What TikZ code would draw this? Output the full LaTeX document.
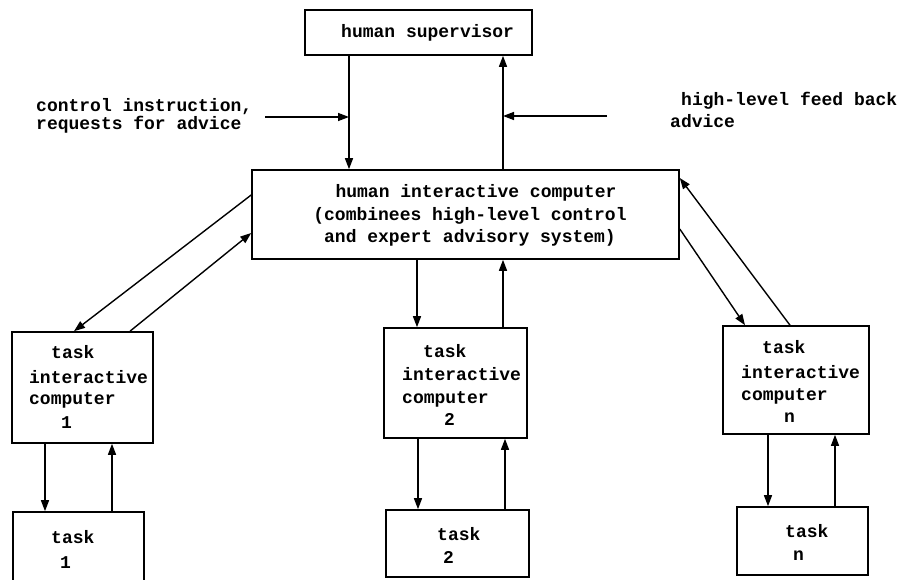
\documentclass[tikz,border=0pt]{standalone}
\usepackage{fontspec}
\setmonofont{Liberation Mono}
\usetikzlibrary{arrows.meta}
\begin{document}
\begin{tikzpicture}[x=1pt,y=-1pt,
  box/.style={draw, line width=1.6pt, inner sep=0pt, rectangle},
  arr/.style={line width=1.4pt, -{Triangle[length=11pt,width=8pt]}},
  txt/.style={inner sep=0pt, anchor=base west, font=\ttfamily\bfseries\fontsize{18}{22}\selectfont},
  ctxt/.style={txt, anchor=base}]
\clip (0,0) rectangle (903,580);
\useasboundingbox (0,0) rectangle (903,580);
% boxes
\node[box, minimum width=227pt, minimum height=45pt] (sup) at (418.5,32.5) {};
\node[box, minimum width=427pt, minimum height=89pt] (hic) at (465.5,214.5) {};
\node[box, minimum width=141pt, minimum height=111pt] (tic1) at (82.5,387.5) {};
\node[box, minimum width=143pt, minimum height=110pt] (tic2) at (455.5,383) {};
\node[box, minimum width=146pt, minimum height=108pt] (ticn) at (796,380) {};
\node[box, minimum width=131pt, minimum height=90pt] (task1) at (78.5,557) {};
\node[box, minimum width=143pt, minimum height=67pt] (task2) at (457.5,543.5) {};
\node[box, minimum width=131pt, minimum height=68pt] (taskn) at (802.5,541) {};
% texts
\node[txt] (supt) at (341,38) {human supervisor};
\node[ctxt] (hica) at (476,198) {human interactive computer};
\node[ctxt] (hicb) at (470,220.5) {(combinees high-level control};
\node[ctxt] (hicc) at (470,243) {and expert advisory system)};
\node[txt] (t1a) at (51,359) {task};
\node[txt] (t1b) at (29,383) {interactive};
\node[txt] (t1c) at (29,404) {computer};
\node[txt] (t1d) at (61,428) {1};
\node[txt] (t2a) at (423,357) {task};
\node[txt] (t2b) at (402,380) {interactive};
\node[txt] (t2c) at (402,403) {computer};
\node[txt] (t2d) at (444,425) {2};
\node[txt] (tna) at (762,353) {task};
\node[txt] (tnb) at (741,378) {interactive};
\node[txt] (tnc) at (741,400) {computer};
\node[txt] (tnd) at (784,422) {n};
\node[txt] (k1a) at (51,543) {task};
\node[txt] (k1b) at (60,568) {1};
\node[txt] (k2a) at (437,540) {task};
\node[txt] (k2b) at (443,563) {2};
\node[txt] (kna) at (785,537) {task};
\node[txt] (knb) at (793,560) {n};
\node[txt] (ina) at (36,112) {control instruction,};
\node[txt] (inb) at (36,130) {requests for advice};
\node[txt] (fba) at (681,106) {high-level feed back};
\node[txt] (fbb) at (670,128) {advice};
% junctions
\coordinate (j1) at (349,117);
\coordinate (j1s) at (265,117);
\coordinate (j2) at (503,116);
\coordinate (j2s) at (607,116);
% connectors
\draw[arr] (349,0 |- sup.south) -- (349,0 |- hic.north);
\draw[arr] (j1s) -- (j1);
\draw[arr] (503,0 |- hic.north) -- (503,0 |- sup.south);
\draw[arr] (j2s) -- (j2);
\draw[arr] (hic.west |- 0,195) -- (74,0 |- tic1.north);
\draw[arr] (130,0 |- tic1.north) -- (hic.west |- 0,233);
\draw[arr] (hic.east |- 0,229) -- (745,0 |- ticn.north);
\draw[arr] (790,0 |- ticn.north) -- (hic.east |- 0,178);
\draw[arr] (417,0 |- hic.south) -- (417,0 |- tic2.north);
\draw[arr] (503,0 |- tic2.north) -- (503,0 |- hic.south);
\draw[arr] (45,0 |- tic1.south) -- (45,0 |- task1.north);
\draw[arr] (112,0 |- task1.north) -- (112,0 |- tic1.south);
\draw[arr] (418,0 |- tic2.south) -- (418,0 |- task2.north);
\draw[arr] (505,0 |- task2.north) -- (505,0 |- tic2.south);
\draw[arr] (768,0 |- ticn.south) -- (768,0 |- taskn.north);
\draw[arr] (835,0 |- taskn.north) -- (835,0 |- ticn.south);
\end{tikzpicture}
\end{document}
